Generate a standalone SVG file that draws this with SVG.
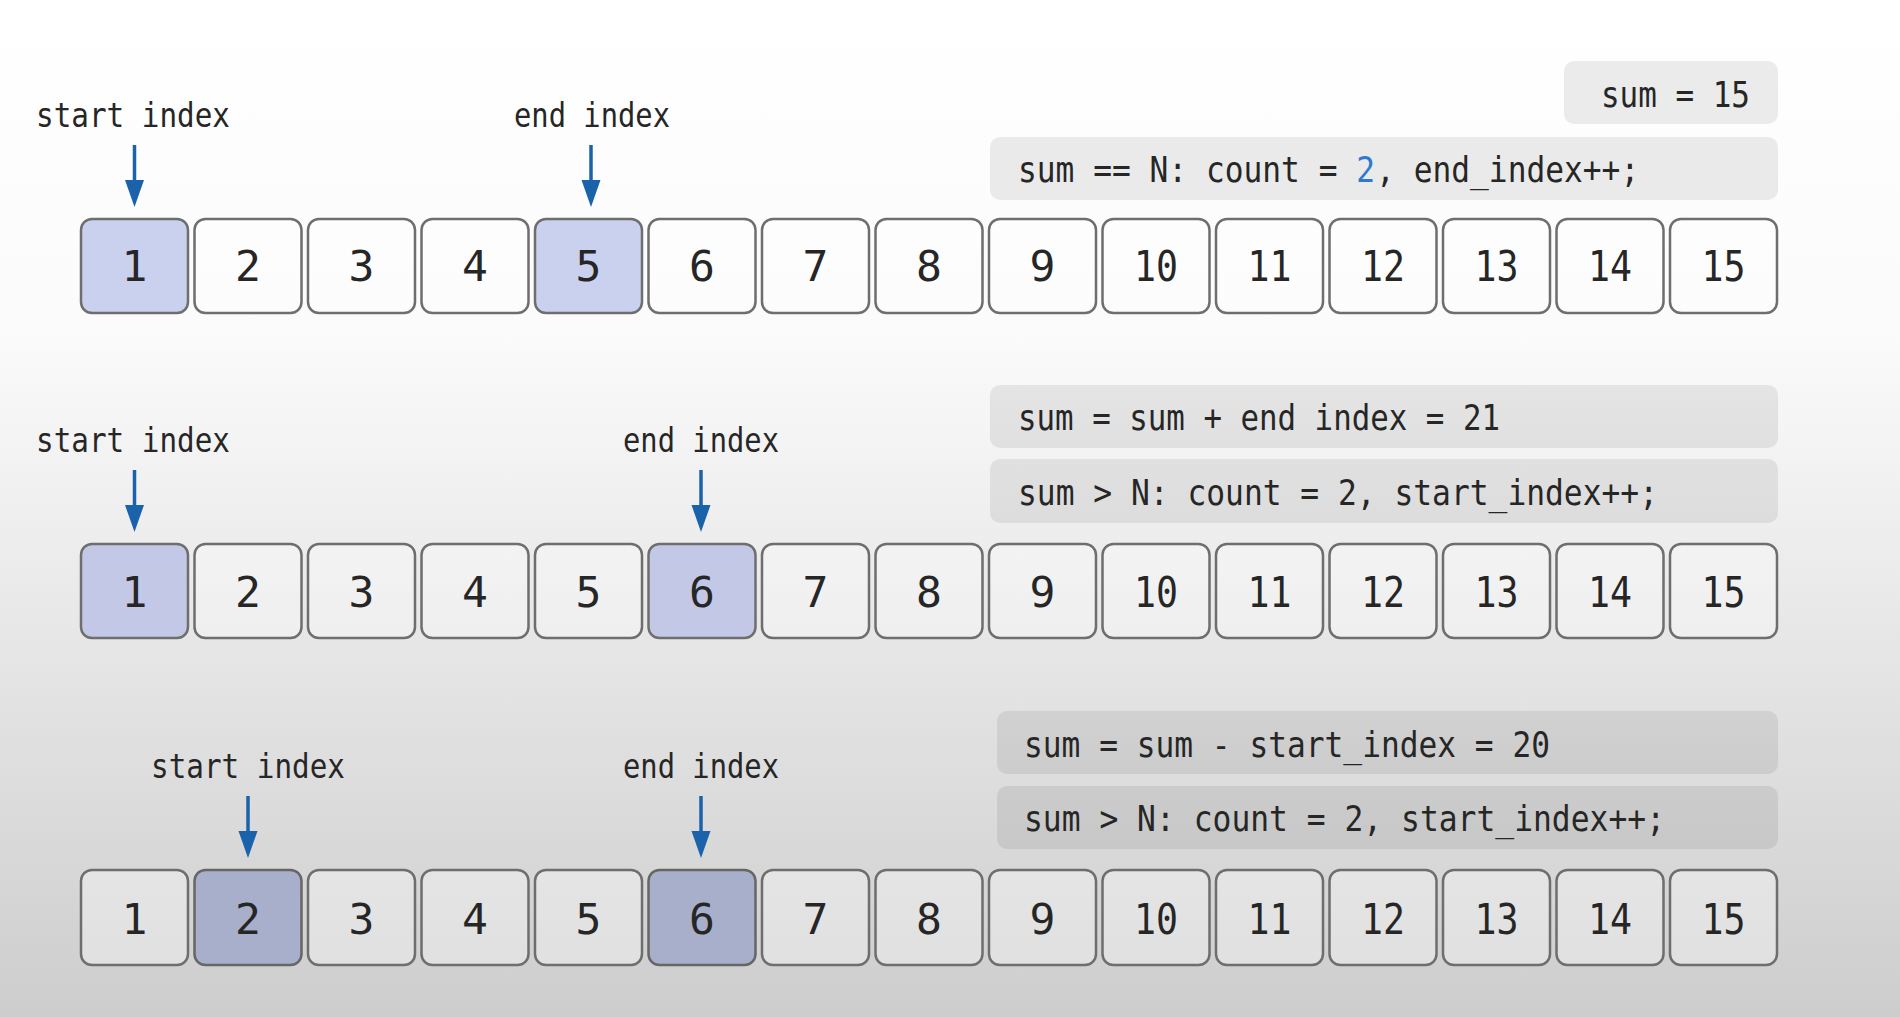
<svg xmlns="http://www.w3.org/2000/svg" width="1900" height="1017" viewBox="0 0 1900 1017">
<defs>
<linearGradient id="bg" x1="0" y1="0" x2="0" y2="1">
<stop offset="0" stop-color="#ffffff"/>
<stop offset="0.32" stop-color="#fbfbfb"/>
<stop offset="0.55" stop-color="#ececec"/>
<stop offset="1" stop-color="#cdcdcd"/>
</linearGradient>
<style>
.box{fill:#ffffff;fill-opacity:0.35;stroke:#6e6e6e;stroke-width:2.5}
.h1{fill:#c9d1ee;stroke:#6e6e6e;stroke-width:2.5}
.h2{fill:#c2c8e6;stroke:#6e6e6e;stroke-width:2.5}
.h3{fill:#a8afcb;stroke:#666;stroke-width:2.5}
.num{font-family:"DejaVu Sans Mono","Liberation Mono",monospace;font-size:43px;fill:#262626;text-anchor:middle}
.lbl{font-family:"DejaVu Sans Mono","Liberation Mono",monospace;font-size:34px;fill:#262626;text-anchor:middle}
.code{font-family:"DejaVu Sans Mono","Liberation Mono",monospace;font-size:35px;fill:#262626}
.panel{fill:#000;fill-opacity:0.075}
.arr{stroke:#1a62aa;stroke-width:3.5;fill:none}
.head{fill:#1a62aa}
.blue{fill:#2f7ad0}
</style>
</defs>
<rect x="0" y="0" width="1900" height="1017" fill="url(#bg)"/>

<g id="panels">
<g id="panel-sum15"><rect class="panel" x="1564" y="61" width="214" height="63" rx="10"/><text class="code" x="1601" y="107" textLength="149" lengthAdjust="spacingAndGlyphs">sum = 15</text></g>
<g id="panel-r1"><rect class="panel" x="990" y="137" width="788" height="63" rx="10"/>
<g transform="translate(1018 182) scale(0.892 1)">
<text class="code" x="0" y="0">sum == N: count =</text>
<text class="code blue" x="379.3" y="0">2</text>
<text class="code" x="401.5" y="0">, end_index++;</text>
</g></g>
<g id="panel-r2a"><rect class="panel" x="990" y="385" width="788" height="63" rx="10"/><text class="code" x="1018" y="430" textLength="482" lengthAdjust="spacingAndGlyphs">sum = sum + end index = 21</text></g>
<g id="panel-r2b"><rect class="panel" x="990" y="459" width="788" height="64" rx="10"/><text class="code" x="1018" y="505" textLength="640" lengthAdjust="spacingAndGlyphs">sum &gt; N: count = 2, start_index++;</text></g>
<g id="panel-r3a"><rect class="panel" x="997" y="711" width="781" height="63" rx="10"/><text class="code" x="1024" y="757" textLength="526" lengthAdjust="spacingAndGlyphs">sum = sum - start_index = 20</text></g>
<g id="panel-r3b"><rect class="panel" x="997" y="786" width="781" height="63" rx="10"/><text class="code" x="1024" y="831" textLength="641" lengthAdjust="spacingAndGlyphs">sum &gt; N: count = 2, start_index++;</text></g>
</g>

<g id="labels">
<text class="lbl" x="133" y="127" textLength="194" lengthAdjust="spacingAndGlyphs">start index</text>
<text class="lbl" x="592" y="127" textLength="156" lengthAdjust="spacingAndGlyphs">end index</text>
<text class="lbl" x="133" y="452" textLength="194" lengthAdjust="spacingAndGlyphs">start index</text>
<text class="lbl" x="701" y="452" textLength="156" lengthAdjust="spacingAndGlyphs">end index</text>
<text class="lbl" x="248" y="778" textLength="194" lengthAdjust="spacingAndGlyphs">start index</text>
<text class="lbl" x="701" y="778" textLength="156" lengthAdjust="spacingAndGlyphs">end index</text>
</g>

<g id="connectors">
<line class="arr" x1="134.5" y1="145" x2="134.5" y2="182"/><path class="head" d="M125,180 L144,180 L134.5,207 Z"/>
<line class="arr" x1="591" y1="145" x2="591" y2="182"/><path class="head" d="M581.5,180 L600.5,180 L591,207 Z"/>
<line class="arr" x1="134.5" y1="470" x2="134.5" y2="507"/><path class="head" d="M125,505 L144,505 L134.5,532 Z"/>
<line class="arr" x1="701" y1="470" x2="701" y2="507"/><path class="head" d="M691.5,505 L710.5,505 L701,532 Z"/>
<line class="arr" x1="248" y1="796" x2="248" y2="833"/><path class="head" d="M238.5,831 L257.5,831 L248,858 Z"/>
<line class="arr" x1="701" y1="796" x2="701" y2="833"/><path class="head" d="M691.5,831 L710.5,831 L701,858 Z"/>
</g>

<g id="row1">
<g id="r1-1"><rect class="h1" x="81" y="219" width="107" height="94" rx="11"/><text class="num" x="134.5" y="281">1</text></g>
<g id="r1-2"><rect class="box" x="194.5" y="219" width="107" height="94" rx="11"/><text class="num" x="248" y="281">2</text></g>
<g id="r1-3"><rect class="box" x="308" y="219" width="107" height="94" rx="11"/><text class="num" x="361.5" y="281">3</text></g>
<g id="r1-4"><rect class="box" x="421.5" y="219" width="107" height="94" rx="11"/><text class="num" x="475" y="281">4</text></g>
<g id="r1-5"><rect class="h1" x="535" y="219" width="107" height="94" rx="11"/><text class="num" x="588.5" y="281">5</text></g>
<g id="r1-6"><rect class="box" x="648.5" y="219" width="107" height="94" rx="11"/><text class="num" x="702" y="281">6</text></g>
<g id="r1-7"><rect class="box" x="762" y="219" width="107" height="94" rx="11"/><text class="num" x="815.5" y="281">7</text></g>
<g id="r1-8"><rect class="box" x="875.5" y="219" width="107" height="94" rx="11"/><text class="num" x="929" y="281">8</text></g>
<g id="r1-9"><rect class="box" x="989" y="219" width="107" height="94" rx="11"/><text class="num" x="1042.5" y="281">9</text></g>
<g id="r1-10"><rect class="box" x="1102.5" y="219" width="107" height="94" rx="11"/><text class="num" x="1156" y="281" textLength="44" lengthAdjust="spacingAndGlyphs">10</text></g>
<g id="r1-11"><rect class="box" x="1216" y="219" width="107" height="94" rx="11"/><text class="num" x="1269.5" y="281" textLength="44" lengthAdjust="spacingAndGlyphs">11</text></g>
<g id="r1-12"><rect class="box" x="1329.5" y="219" width="107" height="94" rx="11"/><text class="num" x="1383" y="281" textLength="44" lengthAdjust="spacingAndGlyphs">12</text></g>
<g id="r1-13"><rect class="box" x="1443" y="219" width="107" height="94" rx="11"/><text class="num" x="1496.5" y="281" textLength="44" lengthAdjust="spacingAndGlyphs">13</text></g>
<g id="r1-14"><rect class="box" x="1556.5" y="219" width="107" height="94" rx="11"/><text class="num" x="1610" y="281" textLength="44" lengthAdjust="spacingAndGlyphs">14</text></g>
<g id="r1-15"><rect class="box" x="1670" y="219" width="107" height="94" rx="11"/><text class="num" x="1723.5" y="281" textLength="44" lengthAdjust="spacingAndGlyphs">15</text></g>
</g>

<g id="row2">
<g id="r2-1"><rect class="h2" x="81" y="544" width="107" height="94" rx="11"/><text class="num" x="134.5" y="607">1</text></g>
<g id="r2-2"><rect class="box" x="194.5" y="544" width="107" height="94" rx="11"/><text class="num" x="248" y="607">2</text></g>
<g id="r2-3"><rect class="box" x="308" y="544" width="107" height="94" rx="11"/><text class="num" x="361.5" y="607">3</text></g>
<g id="r2-4"><rect class="box" x="421.5" y="544" width="107" height="94" rx="11"/><text class="num" x="475" y="607">4</text></g>
<g id="r2-5"><rect class="box" x="535" y="544" width="107" height="94" rx="11"/><text class="num" x="588.5" y="607">5</text></g>
<g id="r2-6"><rect class="h2" x="648.5" y="544" width="107" height="94" rx="11"/><text class="num" x="702" y="607">6</text></g>
<g id="r2-7"><rect class="box" x="762" y="544" width="107" height="94" rx="11"/><text class="num" x="815.5" y="607">7</text></g>
<g id="r2-8"><rect class="box" x="875.5" y="544" width="107" height="94" rx="11"/><text class="num" x="929" y="607">8</text></g>
<g id="r2-9"><rect class="box" x="989" y="544" width="107" height="94" rx="11"/><text class="num" x="1042.5" y="607">9</text></g>
<g id="r2-10"><rect class="box" x="1102.5" y="544" width="107" height="94" rx="11"/><text class="num" x="1156" y="607" textLength="44" lengthAdjust="spacingAndGlyphs">10</text></g>
<g id="r2-11"><rect class="box" x="1216" y="544" width="107" height="94" rx="11"/><text class="num" x="1269.5" y="607" textLength="44" lengthAdjust="spacingAndGlyphs">11</text></g>
<g id="r2-12"><rect class="box" x="1329.5" y="544" width="107" height="94" rx="11"/><text class="num" x="1383" y="607" textLength="44" lengthAdjust="spacingAndGlyphs">12</text></g>
<g id="r2-13"><rect class="box" x="1443" y="544" width="107" height="94" rx="11"/><text class="num" x="1496.5" y="607" textLength="44" lengthAdjust="spacingAndGlyphs">13</text></g>
<g id="r2-14"><rect class="box" x="1556.5" y="544" width="107" height="94" rx="11"/><text class="num" x="1610" y="607" textLength="44" lengthAdjust="spacingAndGlyphs">14</text></g>
<g id="r2-15"><rect class="box" x="1670" y="544" width="107" height="94" rx="11"/><text class="num" x="1723.5" y="607" textLength="44" lengthAdjust="spacingAndGlyphs">15</text></g>
</g>

<g id="row3">
<g id="r3-1"><rect class="box" x="81" y="870" width="107" height="95" rx="11"/><text class="num" x="134.5" y="934">1</text></g>
<g id="r3-2"><rect class="h3" x="194.5" y="870" width="107" height="95" rx="11"/><text class="num" x="248" y="934">2</text></g>
<g id="r3-3"><rect class="box" x="308" y="870" width="107" height="95" rx="11"/><text class="num" x="361.5" y="934">3</text></g>
<g id="r3-4"><rect class="box" x="421.5" y="870" width="107" height="95" rx="11"/><text class="num" x="475" y="934">4</text></g>
<g id="r3-5"><rect class="box" x="535" y="870" width="107" height="95" rx="11"/><text class="num" x="588.5" y="934">5</text></g>
<g id="r3-6"><rect class="h3" x="648.5" y="870" width="107" height="95" rx="11"/><text class="num" x="702" y="934">6</text></g>
<g id="r3-7"><rect class="box" x="762" y="870" width="107" height="95" rx="11"/><text class="num" x="815.5" y="934">7</text></g>
<g id="r3-8"><rect class="box" x="875.5" y="870" width="107" height="95" rx="11"/><text class="num" x="929" y="934">8</text></g>
<g id="r3-9"><rect class="box" x="989" y="870" width="107" height="95" rx="11"/><text class="num" x="1042.5" y="934">9</text></g>
<g id="r3-10"><rect class="box" x="1102.5" y="870" width="107" height="95" rx="11"/><text class="num" x="1156" y="934" textLength="44" lengthAdjust="spacingAndGlyphs">10</text></g>
<g id="r3-11"><rect class="box" x="1216" y="870" width="107" height="95" rx="11"/><text class="num" x="1269.5" y="934" textLength="44" lengthAdjust="spacingAndGlyphs">11</text></g>
<g id="r3-12"><rect class="box" x="1329.5" y="870" width="107" height="95" rx="11"/><text class="num" x="1383" y="934" textLength="44" lengthAdjust="spacingAndGlyphs">12</text></g>
<g id="r3-13"><rect class="box" x="1443" y="870" width="107" height="95" rx="11"/><text class="num" x="1496.5" y="934" textLength="44" lengthAdjust="spacingAndGlyphs">13</text></g>
<g id="r3-14"><rect class="box" x="1556.5" y="870" width="107" height="95" rx="11"/><text class="num" x="1610" y="934" textLength="44" lengthAdjust="spacingAndGlyphs">14</text></g>
<g id="r3-15"><rect class="box" x="1670" y="870" width="107" height="95" rx="11"/><text class="num" x="1723.5" y="934" textLength="44" lengthAdjust="spacingAndGlyphs">15</text></g>
</g>
</svg>
